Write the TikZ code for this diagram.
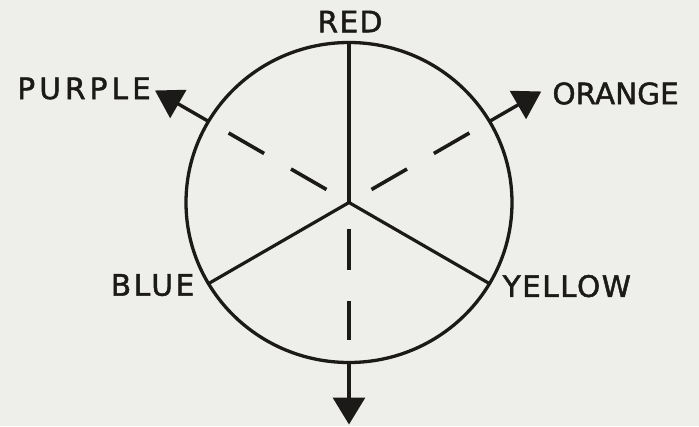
\documentclass[tikz,border=0pt]{standalone}
\usepackage{fontspec}
\setmainfont[FakeBold=1.6]{DejaVu Sans}
\usepackage{tikz}
\usetikzlibrary{shapes.geometric, arrows.meta, positioning}
\definecolor{ink}{RGB}{28, 26, 24}
\definecolor{paper}{RGB}{238, 238, 235}

\begin{document}
\begin{tikzpicture}[
    x=1pt, y=1pt,
    wheel/.style={
      ellipse, draw=ink, line width=3.3pt,
      minimum width=326pt, minimum height=320pt,
      inner sep=0pt, outer sep=0pt
    },
    spoke/.style={draw=ink, line width=3.2pt},
    dashspoke/.style={draw=ink, line width=3.6pt, dash pattern=on 41pt off 31pt,
      shorten <=26pt, shorten >=23pt},
    arr/.style={-{Triangle[length=27pt, width=32pt]}, draw=ink, line width=3.4pt},
    lbl/.style={font=\fontsize{29.5}{35}\selectfont, text=ink, inner sep=0pt}
]
  \useasboundingbox[fill=paper] (-349,-223.5) rectangle (350,202.5);

  \node[wheel] (w) at (0,0) {};
  \coordinate (ptip) at (150:224);
  \coordinate (otip) at (30:222);
  \coordinate (dtip) at (270:222);

  % primaries
  \draw[spoke] (w.center) -- (w.90);
  \draw[spoke] (w.center) -- (w.210);
  \draw[spoke] (w.center) -- (w.330);

  % secondaries
  \draw[dashspoke] (w.center) -- (w.150);
  \draw[dashspoke] (w.center) -- (w.30);
  \draw[dashspoke] (w.center) -- (w.270);
  \draw[arr] (w.150) -- (ptip);
  \draw[arr] (w.30) -- (otip);
  \draw[arr] (w.270) -- (dtip);

  \node[lbl, above=10pt of w.north, xshift=1pt] (red)
    {\addfontfeature{LetterSpace=5}RED};
  \node[lbl, left=4pt of ptip, yshift=2pt] (purple)
    {\addfontfeature{LetterSpace=14}PURPLE};
  \node[lbl, right=11pt of otip, yshift=-2pt] (orange) {ORANGE};
  \node[lbl, left=14pt of w.210, yshift=-1.5pt] (blue)
    {\addfontfeature{LetterSpace=9}BLUE};
  \node[lbl, right=13pt of w.330, yshift=-2.5pt] (yellow)
    {\addfontfeature{LetterSpace=5}YELLOW};
\end{tikzpicture}
\end{document}
